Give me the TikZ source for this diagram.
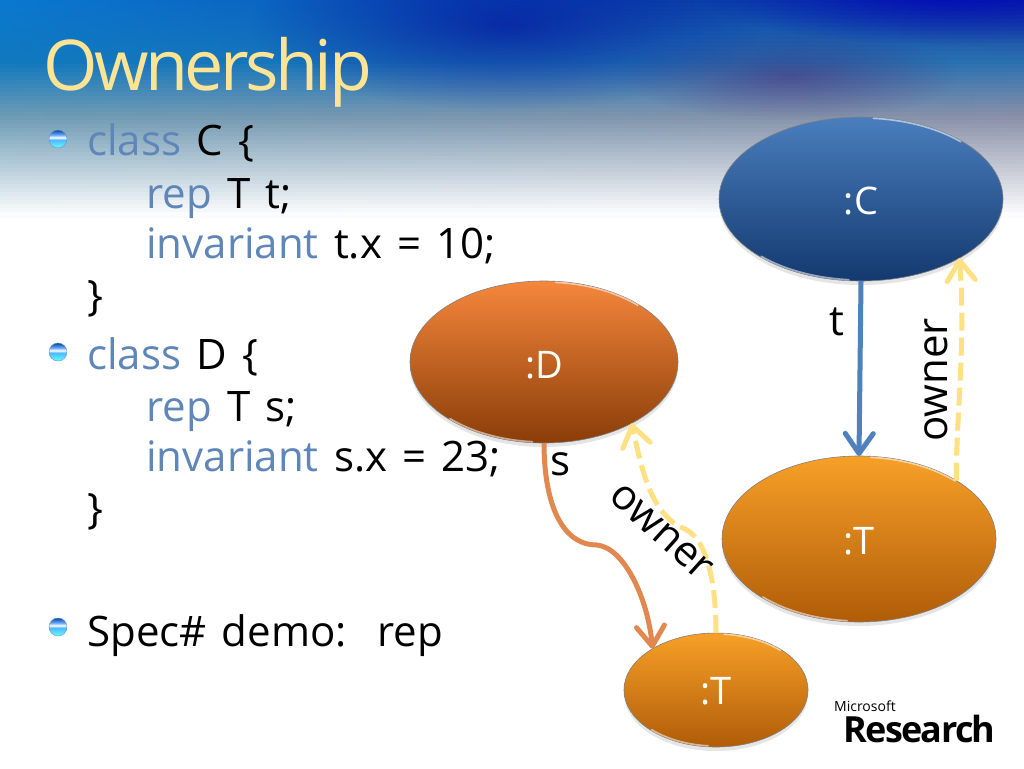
\documentclass[tikz,border=0pt]{standalone}
\usepackage{fontspec}
\setmainfont[WordSpace=1.4]{Open Sans}
\newfontfamily\titlefont[LetterSpace=-5]{Open Sans}
\newfontfamily\logofont[LetterSpace=-4.5]{Open Sans}
\usetikzlibrary{shapes.geometric,arrows.meta,fadings,shadows}
\definecolor{keyword}{HTML}{5F86B8}
\definecolor{ownerline}{HTML}{FFE083}
\definecolor{refblue}{HTML}{4F81BD}
\definecolor{reforange}{HTML}{E0884F}
\definecolor{titlegold}{HTML}{FDE394}
\definecolor{lefttop}{HTML}{0A78D0}
\definecolor{leftmid}{HTML}{1078BE}
\definecolor{leftlow}{HTML}{6E9CB5}
\definecolor{midtop}{HTML}{1A5FB8}
\definecolor{midmid}{HTML}{2878B0}
\definecolor{midlow}{HTML}{80A5BC}
\definecolor{righttop}{HTML}{0C2D9A}
\definecolor{rightmid}{HTML}{2A70B0}
\definecolor{rightlow}{HTML}{8A90A8}
\definecolor{ctop}{HTML}{4A7EBD}
\definecolor{cbot}{HTML}{13396F}
\definecolor{dtop}{HTML}{F5873C}
\definecolor{dbot}{HTML}{8A3D08}
\definecolor{ttop}{HTML}{F7A028}
\definecolor{tbot}{HTML}{B05C08}
\pgfdeclareradialshading{softshade}{\pgfpoint{0bp}{0bp}}{color(0bp)=(pgftransparent!0); color(25bp)=(pgftransparent!100); color(50bp)=(pgftransparent!100)}
\pgfdeclarefading{blobfade}{\pgfuseshading{softshade}}
\pgfdeclareverticalshading{bulletshade}{100bp}{color(0bp)=(cyan!60!white); color(25bp)=(cyan!60!white); color(48bp)=(cyan!60!blue!70!white); color(54bp)=(white); color(62bp)=(cyan!40!blue!60!white); color(75bp)=(blue!40!black!70!cyan); color(100bp)=(blue!40!black!70!cyan)}
% colour of one sky column at height \y
\newcommand\skyblend[4]{%
  \ifdim\y pt<60pt
    \pgfmathsetmacro\pc{100*(60-\y)/60}\colorlet{#1}{#2!\pc!#3}%
  \else\ifdim\y pt<115pt
    \pgfmathsetmacro\pc{100*(115-\y)/55}\colorlet{#1}{#3!\pc!#4}%
  \else
    \pgfmathsetmacro\pc{100*(215-\y)/100}\colorlet{#1}{#4!\pc!white}%
  \fi\fi}
\tikzset{
  body/.style={font=\fontsize{42}{42}\selectfont, anchor=base west, inner sep=0pt},
  kw/.style={body, text=keyword},
  bulletball/.style={circle, minimum size=18pt, inner sep=0pt, shading=bulletshade, draw=cyan!40!blue!60, line width=0.4pt},
  blob/.style={ellipse, draw=black!50, line width=0.6pt, inner sep=0pt, outer sep=0pt, text=white,
    font=\fontsize{38}{38}\selectfont, drop shadow={shadow xshift=0pt, shadow yshift=-4pt, opacity=0.2}},
  ownerarrow/.style={ownerline, line width=5pt, dash pattern=on 18pt off 7pt, -{Straight Barb[length=20pt,width=28pt,line width=5pt,round]}},
  refarrow/.style={line width=5pt, -{Straight Barb[length=20pt,width=28pt,line width=5pt,round]}},
  edgelabel/.style={font=\fontsize{42}{42}\selectfont, inner sep=0pt},
  glint/.style={white, line width=1.6pt, opacity=0.55, line cap=round}
}
\begin{document}
\begin{tikzpicture}[x=1pt,y=-1pt]
  \useasboundingbox (0,0) rectangle (1024,768);
  \fill[white] (0,0) rectangle (1024,768);
  % sky behind the title
  \foreach \y in {0,4,...,212} {
    \skyblend{skyl}{lefttop}{leftmid}{leftlow}
    \skyblend{skym}{midtop}{midmid}{midlow}
    \skyblend{skyr}{righttop}{rightmid}{rightlow}
    \shade[left color=skyl, middle color=skym, right color=skyr] (0,\y) rectangle (1024,\y+5);
  }
  \fill[blue!60!black, path fading=blobfade, opacity=0.55] (250,-60) rectangle (760,110);
  \fill[violet!70!black, path fading=blobfade, opacity=0.35] (620,30) rectangle (960,120);
  \fill[blue!75!black, path fading=blobfade, opacity=0.75] (700,-60) rectangle (1200,45);

  \node[anchor=base west, inner sep=0pt, text=titlegold, font=\titlefont\fontsize{70}{70}\selectfont] (title) at (43,90) {Ownership};

  % code on the left
  \node[bulletball] (ball1) at (58,139) {};
  \node[bulletball] (ball2) at (58,352) {};
  \node[bulletball] (ball3) at (58,627) {};
  \node[kw] (classc) at (87,155) {class \textcolor{black}{C \{}};
  \node[kw] (rept) at (146,208) {rep \textcolor{black}{T t;}};
  \node[kw] (invt) at (146,258) {invariant \textcolor{black}{t.x = 10;}};
  \node[body] (closec) at (87,310) {\}};
  \node[kw] (classd) at (87,369) {class \textcolor{black}{D \{}};
  \node[kw] (reps) at (146,421) {rep \textcolor{black}{T s;}};
  \node[kw] (invs) at (146,471) {invariant \textcolor{black}{s.x = 23;}};
  \node[body] (closed) at (87,523) {\}};
  \node[body] (demo) at (87,646) {Spec\# demo:\ \ rep};

  % objects
  \node[blob, minimum width=284pt, minimum height=164pt, top color=ctop, bottom color=cbot] (objc) at (861,199) {\raisebox{-15pt}[0pt][0pt]{:C}};
  \node[blob, minimum width=268pt, minimum height=162pt, top color=dtop, bottom color=dbot] (objd) at (544,362) {\raisebox{-16pt}[0pt][0pt]{:D}};
  \node[blob, minimum width=274pt, minimum height=166pt, top color=ttop, bottom color=tbot] (objt) at (859,539) {\raisebox{-15pt}[0pt][0pt]{:T}};
  \node[blob, minimum width=184pt, minimum height=114pt, top color=ttop, bottom color=tbot] (objs) at (716,690) {\raisebox{-14pt}[0pt][0pt]{:T}};
  \foreach \cx/\cy/\rx/\ry in {861/199/141/81, 544/362/133/80, 859/539/136/82, 716/690/91/56} {
    \draw[glint] plot[smooth, domain=45:85, samples=12] ({\cx+\rx*cos(\x)},{\cy-\ry*sin(\x)});
    \draw[glint] plot[smooth, domain=225:265, samples=12] ({\cx+\rx*cos(\x)},{\cy-\ry*sin(\x)});
  }

  % references
  \draw[refarrow, refblue] (objc.south) -- (objt.north);
  \draw[refarrow, reforange] (objd.south) .. controls (544,500) and (560,545) .. (597,545) .. controls (625,548) and (648,600) .. (objs.147);
  \draw[ownerarrow] (objt.31) .. controls (956,420) and (966,340) .. (objc.-31);
  \draw[ownerarrow] (objs.north) .. controls (716,585) and (708,535) .. (680,527) .. controls (650,510) and (642,470) .. (objd.-35);

  \node[edgelabel] (labt) at (837,322) {t};
  \node[edgelabel] (labs) at (561,464) {s};
  \node[edgelabel, rotate=90] (labo) at (936,380) {owner};
  \node[edgelabel, rotate=-42] (labp) at (661,532) {owner};

  \node[anchor=base west, inner sep=0pt, font=\fontsize{14}{14}\selectfont] (ms) at (834,711) {Microsoft};
  \node[anchor=base west, inner sep=0pt, font=\logofont\bfseries\fontsize{36}{36}\selectfont] (research) at (843,742) {Research};
\end{tikzpicture}
\end{document}
